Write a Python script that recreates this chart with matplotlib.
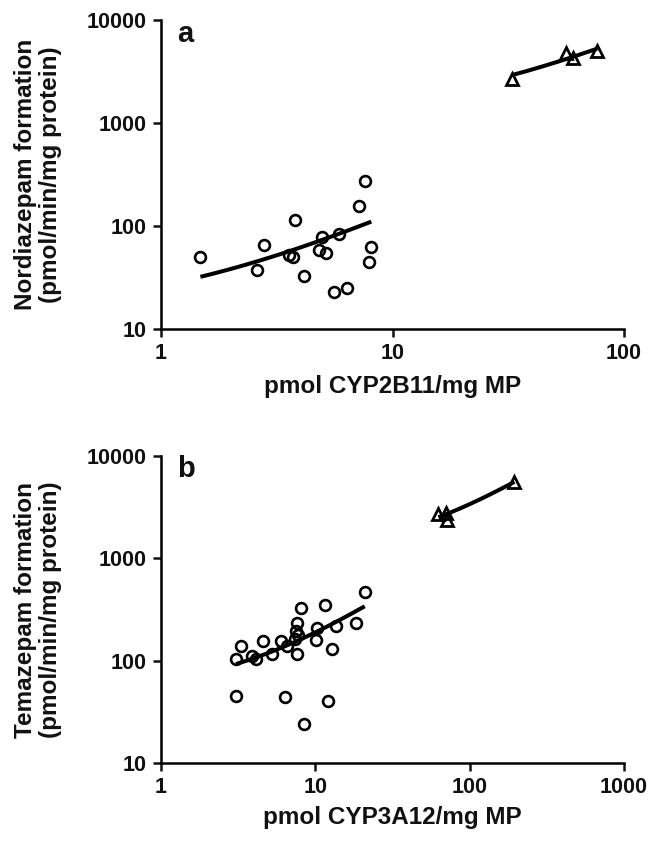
import numpy as np
import matplotlib
matplotlib.use("Agg")
import matplotlib.pyplot as plt

plt.rcParams['font.family'] = ['Liberation Sans', 'DejaVu Sans']

# ---- Data ----
a_circ_x = [1.48, 2.79, 2.59, 3.80, 3.58, 3.73, 4.15, 4.98, 4.83, 5.16, 5.87,
            5.57, 6.36, 7.17, 7.58, 8.10, 7.91]
a_circ_y = [50, 65, 37, 114, 52, 50, 33, 79, 58, 55, 83, 23, 25, 156, 273, 62, 45]
a_tri_x = [32.9, 56.2, 60.0, 76.7]
a_tri_y = [2700, 4750, 4250, 5050]

b_circ_x = [3.28, 3.06, 3.9, 4.1, 4.56, 5.22, 5.97, 6.53, 7.57, 8.04, 7.57, 7.50,
            7.76, 7.39, 10.2, 10.1, 11.6, 13.6, 12.9, 18.3, 20.9, 3.06, 6.36,
            12.0, 8.41]
b_circ_y = [140, 104, 110, 104, 154, 117, 154, 138, 117, 328, 232, 197, 180, 164,
            209, 160, 353, 216, 129, 234, 473, 45.6, 44.2, 40.4, 24.1]
b_tri_x = [62.7, 70, 71, 195]
b_tri_y = [2735, 2800, 2360, 5610]

a_xticks = [1, 10, 100]
b_xticks = [1, 10, 100, 1000]
yticks = [10, 100, 1000, 10000]

a_xlabel = "pmol CYP2B11/mg MP"
b_xlabel = "pmol CYP3A12/mg MP"
a_ylabel = "Nordiazepam formation\n(pmol/min/mg protein)"
b_ylabel = "Temazepam formation\n(pmol/min/mg protein)"

fig = plt.figure(figsize=(6.52, 8.43), dpi=100)
ax_a = fig.add_axes([161/652, 1 - 329/843, 463/652, 309/843])
ax_b = fig.add_axes([161/652, 1 - 763/843, 463/652, 307/843])


def fit_line(ax, xs, ys):
    xs = np.asarray(xs, float)
    ys = np.asarray(ys, float)
    slope, icpt = np.polyfit(xs, ys, 1)
    xx = np.linspace(xs.min(), xs.max(), 200)
    ax.plot(xx, icpt + slope * xx, color='black', lw=2.9, zorder=2,
            solid_capstyle='butt')


def style(ax, xticks, xlabel, ylabel, letter, xlab_y):
    ax.set_xscale('log')
    ax.set_yscale('log')
    ax.set_xlim(xticks[0], xticks[-1])
    ax.set_ylim(yticks[0], yticks[-1])
    ax.set_xticks(xticks)
    ax.set_xticklabels([str(t) for t in xticks])
    ax.set_yticks(yticks)
    ax.set_yticklabels([str(t) for t in yticks])
    ax.minorticks_off()
    for s in ['top', 'right']:
        ax.spines[s].set_visible(False)
    for s in ['left', 'bottom']:
        ax.spines[s].set_linewidth(1.8)
    ax.tick_params(axis='both', which='major', direction='out', length=6,
                   width=1.8, pad=4, labelsize=15.5, colors='#111111')
    for lab in ax.get_xticklabels() + ax.get_yticklabels():
        lab.set_fontweight('bold')
    ax.set_xlabel(xlabel, fontsize=17.5, fontweight='bold', color='#111111')
    ax.xaxis.set_label_coords(0.5, xlab_y)
    ax.set_ylabel(ylabel, fontsize=17.5, fontweight='bold', linespacing=1.15,
                  color='#111111')
    ax.yaxis.set_label_coords(-0.213, 0.5)
    ax.text(0.035, 0.93, letter, transform=ax.transAxes, fontsize=21,
            fontweight='bold', va='baseline', ha='left', color='#111111')


for ax, cx, cy, tx, ty in [(ax_a, a_circ_x, a_circ_y, a_tri_x, a_tri_y),
                           (ax_b, b_circ_x, b_circ_y, b_tri_x, b_tri_y)]:
    fit_line(ax, cx, cy)
    fit_line(ax, tx, ty)
    ax.plot(cx, cy, linestyle='none', marker='o', markersize=7.8,
            markerfacecolor='none', markeredgecolor='black', markeredgewidth=1.9,
            zorder=3)
    ax.plot(tx, ty, linestyle='none', marker='^', markersize=9,
            markerfacecolor='none', markeredgecolor='black', markeredgewidth=2.0,
            zorder=3)

style(ax_a, a_xticks, a_xlabel, a_ylabel, 'a', -0.15)
style(ax_b, b_xticks, b_xlabel, b_ylabel, 'b', -0.14)

fig.savefig('out.png', dpi=100)
